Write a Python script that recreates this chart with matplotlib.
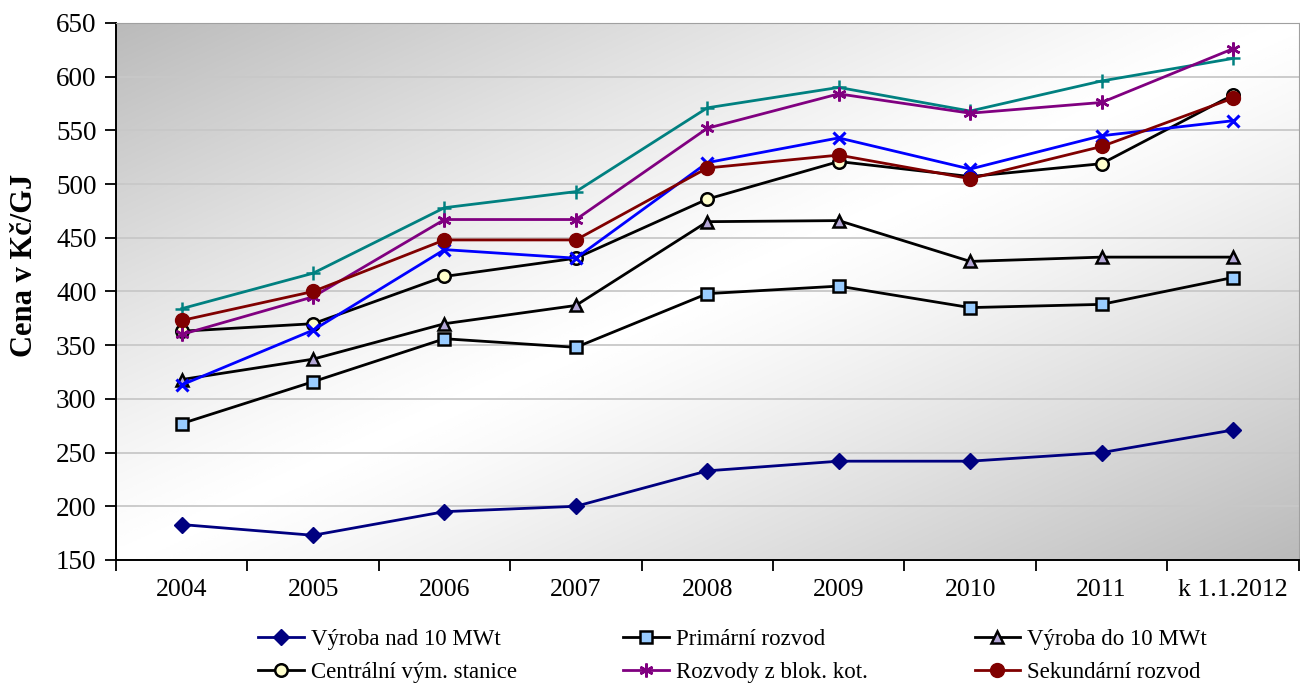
import numpy as np
import matplotlib
matplotlib.use('Agg')
import matplotlib.pyplot as plt

# values (Kč/GJ)
roky = ['2004', '2005', '2006', '2007', '2008', '2009', '2010', '2011', 'k 1.1.2012']
vyroba_nad10 = [183, 173, 195, 200, 233, 242, 242, 250, 271]
primarni = [277, 316, 356, 348, 398, 405, 385, 388, 413]
vyroba_do10 = [318, 337, 370, 387, 465, 466, 428, 432, 432]
centralni = [363, 370, 414, 431, 486, 521, 507, 519, 583]
blok_kot = [360, 395, 467, 467, 552, 584, 566, 576, 626]
sekundarni = [373, 400, 448, 448, 515, 527, 505, 535, 580]
modra_x = [313, 364, 439, 431, 520, 543, 514, 545, 559]
tyrkys_plus = [384, 417, 478, 493, 571, 590, 568, 596, 617]

plt.rcParams['font.family'] = ['Liberation Serif', 'DejaVu Serif']

fig = plt.figure(figsize=(13, 6.84), dpi=100)
ax = fig.add_axes([0.0892, 0.1813, 0.9098, 0.7851])

# diagonal grey gradient background
u, v = np.meshgrid(np.linspace(0, 1, 300), np.linspace(0, 1, 300))
g = 1 - 0.27 * np.abs(u + v - 1) ** 1.2
ax.imshow(g, cmap='gray', vmin=0, vmax=1, extent=[-0.5, 8.5, 150, 650],
          aspect='auto', zorder=0, interpolation='bicubic')

x = np.arange(len(roky))
lw = 2
ms = 9
l1, = ax.plot(x, vyroba_nad10, color='#000080', lw=lw, marker='D', ms=8,
              mfc='#000080', mec='#000080', label='Výroba nad 10 MWt', zorder=3)
l2, = ax.plot(x, primarni, color='black', lw=lw, marker='s', ms=ms,
              mfc='#99ccff', mec='black', mew=1.8, label='Primární rozvod', zorder=3)
l3, = ax.plot(x, vyroba_do10, color='black', lw=lw, marker='^', ms=ms,
              mfc='#b4a7d6', mec='black', mew=1.8, label='Výroba do 10 MWt', zorder=3)
l4, = ax.plot(x, centralni, color='black', lw=lw, marker='o', ms=ms,
              mfc='#ffffcc', mec='black', mew=1.8, label='Centrální vým. stanice', zorder=3)
ax.plot(x, modra_x, color='#0000ff', lw=lw, marker='x', ms=ms, mew=2.2, zorder=3)
ax.plot(x, tyrkys_plus, color='#008080', lw=lw, marker='+', ms=ms + 1, mew=1.8, zorder=3)
l5, = ax.plot(x, blok_kot, color='#800080', lw=lw, marker=(6, 2, 0), ms=10,
              mew=1.8, mec='#800080', label='Rozvody z blok. kot.', zorder=3)
l6, = ax.plot(x, sekundarni, color='#800000', lw=lw, marker='o', ms=10,
              mfc='#800000', mec='#800000', label='Sekundární rozvod', zorder=4)

ax.set_xlim(-0.5, 8.5)
ax.set_ylim(150, 650)
ax.set_yticks(range(150, 651, 50))
ax.set_xticks(x)
ax.set_xticklabels(roky)
ax.set_xticks(np.arange(-0.5, 9, 1), minor=True)
ax.tick_params(axis='x', which='major', length=0, pad=14, labelsize=18.5)
ax.tick_params(axis='x', which='minor', length=8, width=1.3, direction='out')
ax.tick_params(axis='y', length=8, width=1.3, direction='out', labelsize=19.5, pad=6)
ax.yaxis.grid(True, color='#c8c8c8', lw=1.3, zorder=1)
ax.set_axisbelow(True)

for s in ['top', 'right']:
    ax.spines[s].set_color('#a0a0a0')
for s in ['left', 'bottom']:
    ax.spines[s].set_color('black')
    ax.spines[s].set_linewidth(1.4)

ax.set_ylabel('Cena v Kč/GJ', fontsize=22, fontweight='bold', va='center')
ax.yaxis.set_label_coords(-0.077, 0.549)

fig.legend(handles=[l1, l4, l2, l5, l3, l6], ncol=3, loc='lower center',
           bbox_to_anchor=(0.5635, -0.029), frameon=False, fontsize=16.5,
           handlelength=2.0, columnspacing=4.65, handletextpad=0.3, labelspacing=0.52)

fig.savefig('out.png', dpi=100)
